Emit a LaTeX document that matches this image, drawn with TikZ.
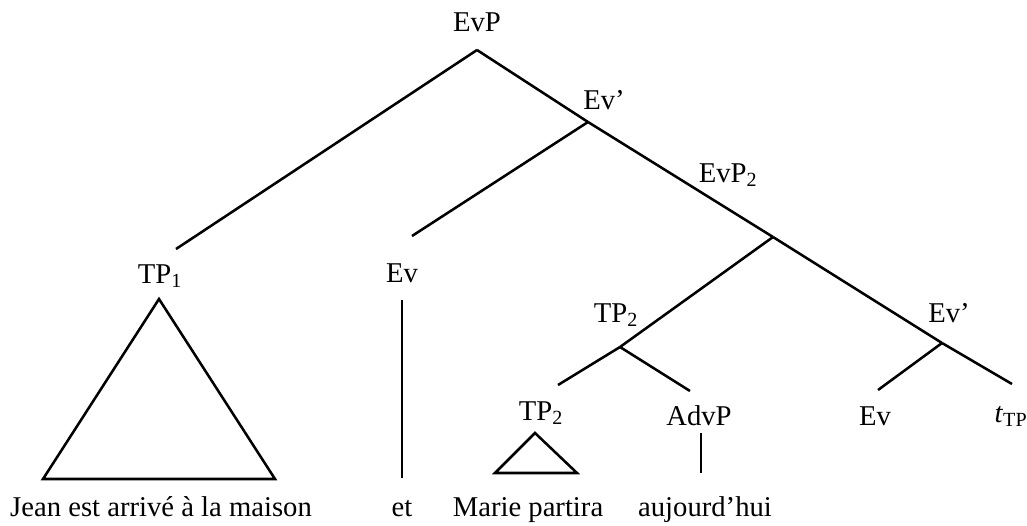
\documentclass[tikz,border=0pt]{standalone}
\usepackage{fontspec}
\setmainfont{Liberation Serif}
\begin{document}
\begin{tikzpicture}[x=0.75pt, y=-0.75pt, line width=1.9pt,
    lab/.style ={anchor=base, inner sep=0pt, font=\fontsize{21.5}{26}\selectfont}]
    \useasboundingbox (0,0) rectangle (1027,525);
    \node[lab] (evp) at (477,31) {EvP};
    \node[lab] (evbar) at (604,109) {Ev’};
    \node[lab] (evp2) at (728,182) {EvP\textsubscript{2}};
    \node[lab] (tp1) at (160,283) {TP\textsubscript{1}};
    \node[lab] (ev) at (402,282) {Ev};
    \node[lab] (tp2) at (616,322) {TP\textsubscript{2}};
    \node[lab] (evbar2) at (949,322) {Ev’};
    \node[lab] (tp2b) at (541,420) {TP\textsubscript{2}};
    \node[lab] (advp) at (699,425) {AdvP};
    \node[lab] (ev2) at (875,425) {Ev};
    \node[lab] (trace) at (1011,422) {\textit{t}\textsubscript{TP}};
    \node[lab] (jean) at (161,516) {Jean est arrivé à la maison};
    \node[lab] (et) at (402,516) {et};
    \node[lab] (marie) at (528,516) {Marie partira};
    \node[lab] (auj) at (705,516) {aujourd’hui};
    \coordinate (evpj) at (477,50);
    \coordinate (evbarj) at (588,122);
    \coordinate (evp2j) at (773,237);
    \coordinate (tp2j) at (620,347);
    \coordinate (evbar2j) at (942,343);
    \coordinate (tp1t) at (176,249);
    \coordinate (evt) at (412,236);
    \coordinate (tp2t) at (558,385);
    \coordinate (advt) at (690,391);
    \coordinate (ev2t) at (878,390);
    \coordinate (tracet) at (1012,384);
    \coordinate (evtop) at (402,300);
    \coordinate (evbot) at (402,478);
    \coordinate (advtop) at (701,433);
    \coordinate (advbot) at (701,473);
    \draw (evpj)--(tp1t);
    \draw (evpj)--(evbarj);
    \draw (evbarj)--(evt);
    \draw (evbarj)--(evp2j);
    \draw (evp2j)--(tp2j);
    \draw (evp2j)--(evbar2j);
    \draw (tp2j)--(tp2t);
    \draw (tp2j)--(advt);
    \draw (evbar2j)--(ev2t);
    \draw (evbar2j)--(tracet);
    \draw (evtop)--(evbot);
    \draw (advtop)--(advbot);
    \draw (159,299)--(43,479)--(275,479)--cycle;
    \draw (535,433)--(495,473)--(577,473)--cycle;
\end{tikzpicture}
\end{document}
